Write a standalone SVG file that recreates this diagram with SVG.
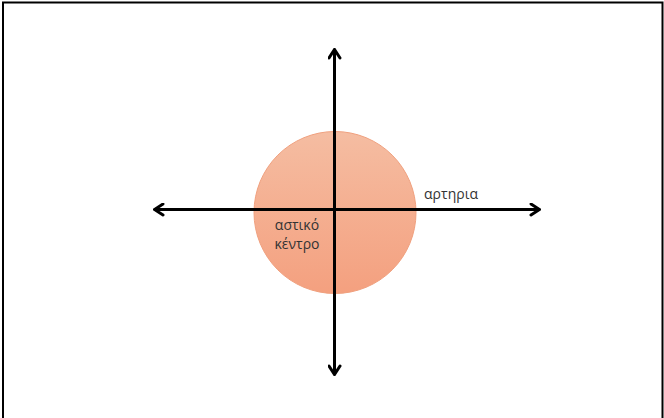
<svg xmlns="http://www.w3.org/2000/svg" width="664" height="418" viewBox="0 0 664 418">
<defs>
<linearGradient id="g" x1="0" y1="0" x2="0" y2="1">
<stop offset="0" stop-color="#f5bda2"/>
<stop offset="1" stop-color="#f4a07f"/>
</linearGradient>
<marker id="ah" viewBox="0 0 12 14" refX="11" refY="7" markerWidth="12" markerHeight="14" markerUnits="userSpaceOnUse" orient="auto-start-reverse">
<path d="M2,1.5 L10.5,7 L2,12.5" fill="none" stroke="#000" stroke-width="3" stroke-linecap="round" stroke-linejoin="miter"/>
</marker>
<style>
.lbl{font-family:"Open Sans","DejaVu Sans",sans-serif;font-size:14px;fill:#333;}
.ax{stroke:#000;stroke-width:3;fill:none;}
</style>
</defs>
<rect width="664" height="418" fill="#fff"/>
<path d="M3,418 V2.5 H662.5 V418" fill="none" stroke="#000" stroke-width="2"/>
<g id="centre">
<circle cx="335" cy="212.5" r="81" fill="url(#g)" stroke="#f0a07e" stroke-width="1"/>
<text class="lbl" x="297" y="230" text-anchor="middle">αστικό</text>
<text class="lbl" x="297" y="249" text-anchor="middle">κέντρο</text>
</g>
<g id="connectors">
<line class="ax" x1="154" y1="209.5" x2="540" y2="209.5" marker-start="url(#ah)" marker-end="url(#ah)"/>
<line class="ax" x1="334.5" y1="49" x2="334.5" y2="375" marker-start="url(#ah)" marker-end="url(#ah)"/>
</g>
<g id="artery">
<text class="lbl" x="451" y="199" text-anchor="middle">αρτηρια</text>
</g>
</svg>
